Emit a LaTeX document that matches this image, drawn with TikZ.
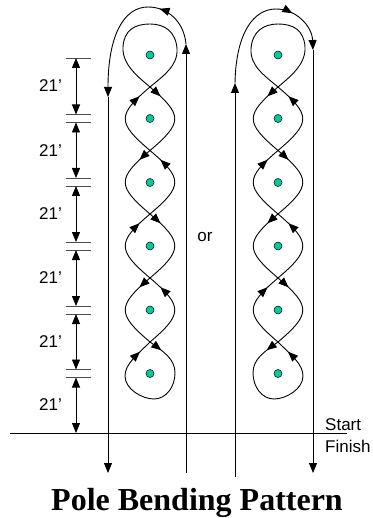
\documentclass[tikz,border=0pt]{standalone}
\usepackage{fontspec}
\setmainfont{Liberation Sans}
\newfontfamily\titlefont{Liberation Serif}
\usetikzlibrary{arrows.meta,decorations.markings}

\definecolor{polegreen}{RGB}{0,204,153}

\tikzset{
  route/.style={line width=0.9pt, line join=round},
  fwdmark/.style={postaction={decorate},
    decoration={markings, mark=at position #1 with {\arrow{>}}}},
  backmark/.style={postaction={decorate},
    decoration={markings, mark=at position #1 with {\arrowreversed{>}}}},
  pole/.style={circle, draw, line width=0.5pt, fill=polegreen,
    inner sep=0pt, minimum size=8pt},
  tickline/.style={line width=0.8pt, black!70},
  dimline/.style={line width=0.9pt, <->},
  lbl/.style={font=\fontsize{17}{19}\selectfont, inner sep=1pt},
}

% One weave: top turn, four crossing pairs, bottom turn, six poles.
% #1 = name prefix, #2 = placement of the scope
\newcommand\drawweave[2]{%
  \begin{scope}[#2]
    \coordinate (#1c1) at (0,87);
    \coordinate (#1c2) at (0,150.5);
    \coordinate (#1c3) at (0,214);
    \coordinate (#1c4) at (0,278);
    \coordinate (#1c5) at (0,342);
    \coordinate (#1tr) at (27,49);
    \coordinate (#1tt) at (0,24);
    \coordinate (#1tl) at (-27,47);
    \coordinate (#1br) at (25,373);
    \coordinate (#1bb) at (4,399);
    \coordinate (#1bl) at (-25,376);
    % turn around the far pole
    \draw[route] (#1c1) .. controls +(13,-11) and +(1,17) .. (#1tr)
      .. controls +(-1,-17) and +(15,0) .. (#1tt)
      .. controls +(-15,0) and +(1,-17) .. (#1tl)
      .. controls +(-1,17) and +(-13,-11) .. (#1c1);
    % weaving strands
    \draw[route,fwdmark=14pt]  (#1c1) .. controls +(33,28) and +(33,-28) .. (#1c2);
    \draw[route,backmark=14pt] (#1c1) .. controls +(-33,28) and +(-33,-28) .. (#1c2);
    \draw[route,fwdmark=14pt]  (#1c2) .. controls +(-33,28) and +(-33,-28) .. (#1c3);
    \draw[route,backmark=14pt] (#1c2) .. controls +(33,28) and +(33,-28) .. (#1c3);
    \draw[route,fwdmark=14pt]  (#1c3) .. controls +(33,28) and +(33,-28) .. (#1c4);
    \draw[route,backmark=14pt] (#1c3) .. controls +(-33,28) and +(-33,-28) .. (#1c4);
    \draw[route,fwdmark=14pt]  (#1c4) .. controls +(-33,28) and +(-33,-28) .. (#1c5);
    \draw[route,backmark=14pt] (#1c4) .. controls +(33,28) and +(33,-28) .. (#1c5);
    % turn around the near pole
    \draw[route, postaction={decorate}, decoration={markings,
        mark=at position 14pt with {\arrow{>}},
        mark=at position -14pt with {\arrow{>}}}]
      (#1c5) .. controls +(14,10) and +(0,-14) .. (#1br)
      .. controls +(0,14) and +(12,0) .. (#1bb)
      .. controls +(-12,0) and +(0,13) .. (#1bl)
      .. controls +(0,-12) and +(-13,13) .. (#1c5);
    % poles
    \node[pole] (#1p1) at (0,55) {};
    \node[pole] (#1p2) at (0,118.5) {};
    \node[pole] (#1p3) at (0,182.5) {};
    \node[pole] (#1p4) at (0,246) {};
    \node[pole] (#1p5) at (0,310) {};
    \node[pole] (#1p6) at (0,373.5) {};
  \end{scope}}

\begin{document}
\begin{tikzpicture}[x=1pt, y=-1pt, >={Triangle[length=10pt,width=8pt]}]
  \useasboundingbox (0,0) rectangle (372,518);

  % start / finish line
  \coordinate (baseL) at (10,433);
  \coordinate (baseR) at (347,433);
  \draw[line width=0.9pt] (baseL) -- (baseR);

  % distance markers
  \foreach \y in {58,114.5,122.5,178,186,242,250,306,314,369.5,377.5}
    \draw[tickline] (66,\y) -- (91,\y);
  \foreach \a/\b/\m [count=\i] in {58/114.5/86, 122.5/178/150.5, 186/242/214,
                                  250/306/278, 314/369.5/342, 377.5/433/405} {
    \coordinate (dimtop\i) at (76,\a);
    \coordinate (dimbot\i) at (76,\b);
    \draw[dimline] (dimtop\i) -- (dimbot\i);
    \node[lbl, anchor=east] (dimlbl\i) at (63,\m) {21’};
  }

  % left pattern
  \drawweave{L}{shift={(150,0)}}
  \coordinate (Lbot) at (186,473);
  \coordinate (Lup) at (186,44);
  \coordinate (Lapex) at (148,7);
  \coordinate (Lmid) at (108,97);
  \coordinate (Lend) at (108,473);
  \draw[route,->] (Lbot) -- (Lup);
  \draw[route,fwdmark=0.8] (Lup) .. controls (184,22) and (168,7) .. (Lapex);
  \draw[route,->] (Lapex) .. controls (124,7) and (108,35) .. (Lmid);
  \draw[route,->] (Lmid) -- (Lend);

  % right pattern
  \drawweave{R}{shift={(278,0)},xscale=-1}
  \coordinate (Rbot) at (235,477);
  \coordinate (Rup) at (235,83);
  \coordinate (Rapex) at (276,9);
  \coordinate (Rtop) at (313,50);
  \coordinate (Rend) at (313,473);
  \draw[route,->] (Rbot) -- (Rup);
  \draw[route] (Rup) .. controls (236,32) and (254,9) .. (Rapex);
  \draw[route,->,fwdmark=0.28] (Rapex) .. controls (296,9) and (312,26) .. (Rtop);
  \draw[route,->] (Rtop) -- (Rend);

  % texts
  \node[lbl] (orlbl) at (205,237) {or};
  \node[lbl, anchor=base west, inner sep=0pt] (start) at (325,430) {Start};
  \node[lbl, anchor=base west, inner sep=0pt] (finish) at (325,452) {Finish};
  \node[anchor=base, inner sep=0pt,
        font=\titlefont\bfseries\fontsize{32}{36}\selectfont] (title)
        at (197,510) {Pole Bending Pattern};
\end{tikzpicture}
\end{document}
